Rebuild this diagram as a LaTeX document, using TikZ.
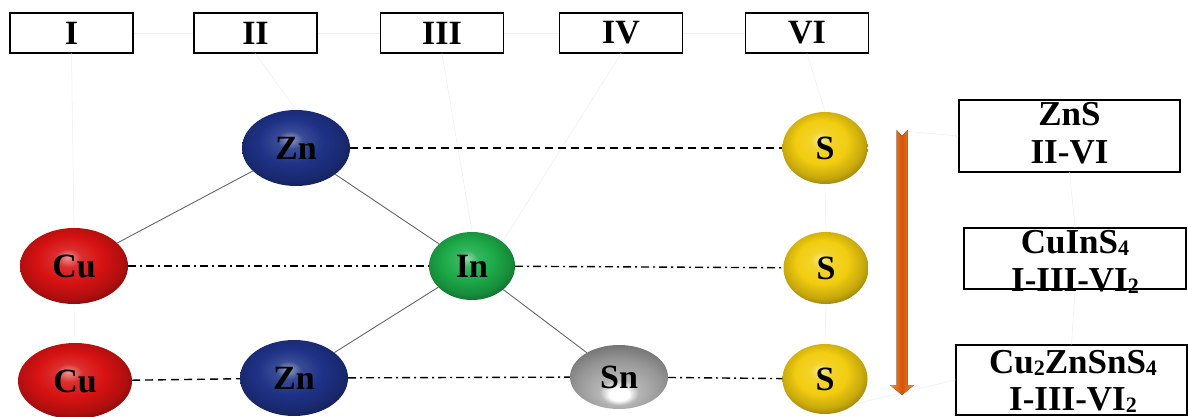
\documentclass[tikz,border=0pt]{standalone}
\usepackage{fontspec}
\setmainfont{Liberation Serif}
\usetikzlibrary{shapes.geometric}
\definecolor{znblue}{RGB}{30,50,135}
\definecolor{cured}{RGB}{215,18,18}
\definecolor{ingreen}{RGB}{28,170,72}
\definecolor{syellow}{RGB}{242,205,15}
\definecolor{sngray}{RGB}{150,150,150}
\definecolor{arrlight}{RGB}{245,140,55}
\definecolor{arrdark}{RGB}{210,85,10}
\colorlet{orbc}{red}
% glossy sphere shadings, colour taken from orbc
\pgfdeclareradialshading[orbc]{orb}{\pgfpoint{-3bp}{6bp}}{%
  color(0bp)=(orbc!45!white); color(6bp)=(orbc!88!white); color(15bp)=(orbc);
  color(24bp)=(orbc!82!black); color(31bp)=(orbc!55!black); color(50bp)=(orbc!55!black)}
\pgfdeclareradialshading[orbc]{orblow}{\pgfpoint{0bp}{-15bp}}{%
  color(0bp)=(white); color(5bp)=(white); color(10bp)=(orbc!70!white);
  color(22bp)=(orbc); color(36bp)=(orbc!65!black); color(50bp)=(orbc!65!black)}
\newcommand\sbs[1]{\raisebox{-0.06em}{\fontsize{22}{22}\selectfont #1}}
\begin{document}
\begin{tikzpicture}[x=1pt,y=-1pt,
  hdr/.style={draw, line width=1.3pt, minimum width=123pt, minimum height=40pt,
    inner sep=0pt, font=\fontsize{34}{34}\selectfont\bfseries},
  atom/.style={ellipse, inner sep=0pt, font=\fontsize{34}{34}\selectfont\bfseries,
    /utils/exec={\colorlet{orbc}{#1}}, shading=orb},
  atomlow/.style={ellipse, inner sep=0pt, font=\fontsize{34}{34}\selectfont\bfseries,
    /utils/exec={\colorlet{orbc}{#1}}, shading=orblow},
  cbox/.style={draw, line width=1.3pt, inner sep=0pt},
  ctext/.style={anchor=base, inner sep=0pt, font=\fontsize{35}{35}\selectfont\bfseries},
  bond/.style={draw=gray!80!black, line width=0.9pt},
  dashline/.style={line width=1.4pt, dash pattern=on 8pt off 5pt},
  dotline/.style={line width=1.4pt, dash pattern=on 8pt off 4pt on 2pt off 4pt},
  faint/.style={draw=gray!12, line width=0.6pt}]
\useasboundingbox (0,0) rectangle (1188,417);

% group headers
\node[hdr] (h1) at (71.5,33) {I};
\node[hdr] (h2) at (255.5,33) {II};
\node[hdr] (h3) at (442,33) {III};
\node[hdr] (h4) at (621,33) {IV};
\node[hdr] (h6) at (807,33) {VI};

% compound boxes
\node[cbox, minimum width=221pt, minimum height=72pt] (zns) at (1069.5,136) {};
\node[cbox, minimum width=222pt, minimum height=61pt] (cuins) at (1075,258.5) {};
\node[cbox, minimum width=231pt, minimum height=70pt] (czts) at (1071.5,380) {};

% faint guide lines
\path[faint] (h1.east) -- (h2.west) (h2.east) -- (h3.west)
  (h3.east) -- (h4.west) (h4.east) -- (h6.west);

% atoms
\node[atom=znblue, minimum width=108pt, minimum height=76pt] (zn1) at (296,148) {Zn};
\node[atom=syellow, minimum width=85pt, minimum height=72pt] (s1) at (825,148) {S};
\node[atom=cured, minimum width=108pt, minimum height=76pt] (cu1) at (74,266) {Cu};
\node[atom=ingreen, minimum width=86pt, minimum height=68pt] (in) at (472,266) {In};
\node[atom=syellow, minimum width=85pt, minimum height=72pt] (s2) at (826,268) {S};
\node[atom=cured, minimum width=114pt, minimum height=76pt] (cu2) at (75,381) {Cu};
\node[atom=znblue, minimum width=108pt, minimum height=76pt] (zn2) at (294,378) {Zn};
\node[atomlow=sngray, minimum width=98pt, minimum height=64pt] (sn) at (619,377) {Sn};
\node[atom=syellow, minimum width=85pt, minimum height=70pt] (s3) at (825,379) {S};

\coordinate (arrtop) at (902,131);

\path[faint] (h1.south) -- (cu1.north) (cu1.south) -- (cu2.north)
  (h2.south) -- (zn1.north) (h3.south) -- (in.north) (h4.south) -- (in.north east)
  (h6.south) -- (s1.north) (s1.south) -- (s2.north) (s2.south) -- (s3.north)
  (arrtop) -- (zns.west) (zns.south) -- (cuins.north) (cuins.south) -- (czts.north)
  (s3.south east) -- (czts.west);

% bonds
\path[bond] (zn1) -- (cu1) (zn1) -- (in) (in) -- (zn2) (in) -- (sn);

% row links
\draw[dashline] (zn1) -- (s1);
\draw[dotline] (cu1) -- (in);
\draw[dotline] (in) -- (s2);
\draw[dashline] (cu2) -- (zn2);
\draw[dotline] (zn2) -- (sn);
\draw[dotline] (sn) -- (s3);

% trend arrow
\fill[left color=arrlight, right color=arrlight, middle color=arrdark]
  (896.5,130) -- (902,136) -- (907.5,130) -- (907.5,385) -- (914,385) -- (902,395)
  -- (890,385) -- (896.5,385) -- cycle;

% compound labels
\node[ctext] (t1a) at (1069.5,126) {ZnS};
\node[ctext] (t1b) at (1069.5,163) {II-VI};
\node[ctext] (t2a) at (1075,253) {CuInS\sbs{4}};
\node[ctext] (t2b) at (1075,291) {I-III-VI\sbs{2}};
\node[ctext] (t3a) at (1073,373) {Cu\sbs{2}ZnSnS\sbs{4}};
\node[ctext] (t3b) at (1073,410) {I-III-VI\sbs{2}};
\draw[line width=1.3pt] (cuins.south west) -- (cuins.south east);
\end{tikzpicture}
\end{document}
